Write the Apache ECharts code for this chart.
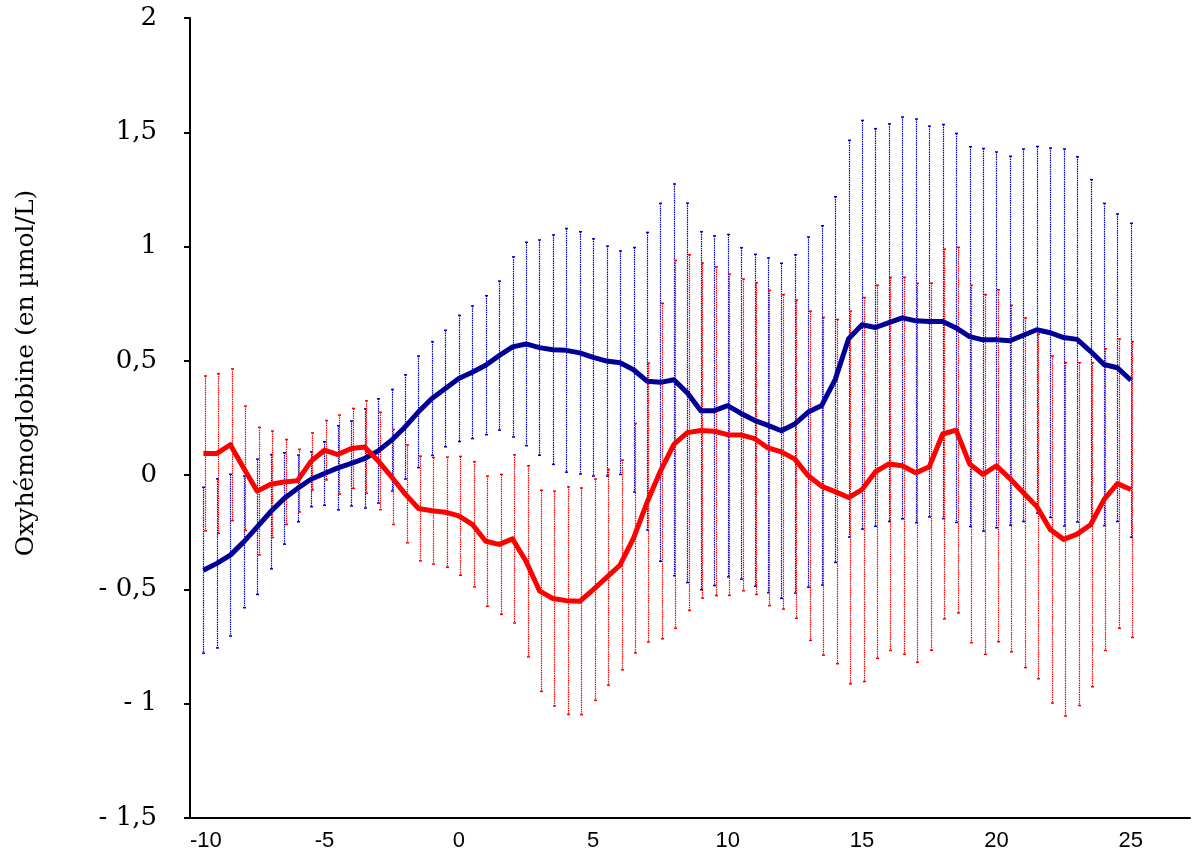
<!DOCTYPE html>
<html>
<head>
<meta charset="utf-8">
<script src="https://cdn.jsdelivr.net/npm/echarts@6/dist/echarts.min.js"></script>
<style>
  html, body { margin: 0; padding: 0; background: #fff; }
  #chart { width: 1194px; height: 856px; }
</style>
</head>
<body>
<div id="chart"></div>
<script>
// Time points (s), every 0.5 from -9.5 to 25
const times = [
  -9.5, -9, -8.5, -8, -7.5, -7, -6.5, -6, -5.5, -5,
  -4.5, -4, -3.5, -3, -2.5, -2, -1.5, -1, -0.5, 0,
  0.5, 1, 1.5, 2, 2.5, 3, 3.5, 4, 4.5, 5,
  5.5, 6, 6.5, 7, 7.5, 8, 8.5, 9, 9.5, 10,
  10.5, 11, 11.5, 12, 12.5, 13, 13.5, 14, 14.5, 15,
  15.5, 16, 16.5, 17, 17.5, 18, 18.5, 19, 19.5, 20,
  20.5, 21, 21.5, 22, 22.5, 23, 23.5, 24, 24.5, 25
];

// Blue group: mean and standard deviation
const blueMean = [
  -0.416, -0.386, -0.35, -0.292, -0.226, -0.16, -0.102, -0.058, -0.018, 0.007,
  0.032, 0.051, 0.073, 0.106, 0.153, 0.211, 0.277, 0.335, 0.379, 0.423,
  0.45, 0.481, 0.523, 0.561, 0.574, 0.558, 0.549, 0.546, 0.535, 0.515,
  0.499, 0.492, 0.461, 0.411, 0.406, 0.417, 0.36, 0.282, 0.282, 0.304,
  0.27, 0.24, 0.218, 0.194, 0.224, 0.276, 0.305, 0.418, 0.597, 0.658,
  0.646, 0.667, 0.688, 0.675, 0.672, 0.672, 0.644, 0.606, 0.592, 0.592,
  0.588, 0.612, 0.636, 0.623, 0.602, 0.594, 0.542, 0.484, 0.47, 0.415
];
const blueSd = [
  0.363, 0.37, 0.354, 0.288, 0.296, 0.25, 0.2, 0.146, 0.12, 0.139,
  0.184, 0.186, 0.217, 0.228, 0.222, 0.228, 0.244, 0.249, 0.255, 0.276,
  0.29, 0.304, 0.326, 0.394, 0.445, 0.471, 0.502, 0.533, 0.53, 0.519,
  0.503, 0.489, 0.535, 0.651, 0.783, 0.857, 0.83, 0.783, 0.765, 0.749,
  0.725, 0.726, 0.732, 0.733, 0.74, 0.766, 0.786, 0.8, 0.868, 0.894,
  0.87, 0.87, 0.879, 0.883, 0.855, 0.862, 0.851, 0.831, 0.837, 0.822,
  0.807, 0.815, 0.802, 0.808, 0.825, 0.799, 0.751, 0.705, 0.673, 0.687
];

// Red group: mean and standard deviation
const redMean = [
  0.095, 0.095, 0.133, 0.03, -0.07, -0.04, -0.03, -0.024, 0.06, 0.109,
  0.09, 0.117, 0.123, 0.062, -0.008, -0.082, -0.146, -0.156, -0.162, -0.178,
  -0.215, -0.289, -0.303, -0.279, -0.377, -0.506, -0.54, -0.549, -0.552, -0.501,
  -0.447, -0.393, -0.276, -0.12, 0.018, 0.135, 0.186, 0.195, 0.192, 0.177,
  0.176, 0.16, 0.119, 0.102, 0.07, -0.003, -0.049, -0.072, -0.098, -0.063,
  0.015, 0.049, 0.041, 0.01, 0.037, 0.18, 0.197, 0.049, 0.003, 0.041,
  -0.015, -0.077, -0.137, -0.238, -0.281, -0.258, -0.217, -0.107, -0.037, -0.063
];
const redSd = [
  0.339, 0.349, 0.332, 0.272, 0.279, 0.233, 0.186, 0.137, 0.125, 0.13,
  0.173, 0.175, 0.202, 0.213, 0.208, 0.214, 0.229, 0.233, 0.241, 0.26,
  0.274, 0.285, 0.306, 0.368, 0.418, 0.44, 0.47, 0.498, 0.496, 0.484,
  0.472, 0.459, 0.502, 0.61, 0.734, 0.805, 0.778, 0.733, 0.719, 0.703,
  0.682, 0.682, 0.69, 0.688, 0.696, 0.72, 0.739, 0.753, 0.815, 0.84,
  0.816, 0.816, 0.825, 0.829, 0.803, 0.809, 0.8, 0.782, 0.787, 0.77,
  0.758, 0.765, 0.754, 0.759, 0.773, 0.75, 0.709, 0.66, 0.633, 0.647
];

// Axis ticks
const xTicks = [-10, -5, 0, 5, 10, 15, 20, 25];
const yTicks = [-1.5, -1, -0.5, 0, 0.5, 1, 1.5, 2];

const yTitle = 'Oxyhémoglobine (en µmol/L)';

const BLUE_LINE = '#000099';
const BLUE_BAR = '#0000cc';
const RED_LINE = '#ff0000';
const RED_BAR = '#ff0000';

function lineData(mean) {
  return times.map((t, i) => [t, mean[i]]);
}
function errData(mean, sd) {
  return times.map((t, i) => [t, mean[i] - sd[i], mean[i] + sd[i]]);
}

// Dotted vertical error bar with small caps at both ends
function errRenderer(color, dx) {
  return function (params, api) {
    const x = api.value(0);
    const top = api.coord([x, api.value(2)]);
    const bot = api.coord([x, api.value(1)]);
    const cx = Math.round(top[0] + dx) + 0.5;
    const cap = 1.5;
    return {
      type: 'group',
      children: [
        { type: 'line', shape: { x1: cx, y1: top[1], x2: cx, y2: bot[1] },
          style: { stroke: color, lineWidth: 1.2, lineDash: [1.5, 0.8] } },
        { type: 'line', shape: { x1: cx - cap, y1: top[1], x2: cx + cap, y2: top[1] },
          style: { stroke: color, lineWidth: 1.5 } },
        { type: 'line', shape: { x1: cx - cap, y1: bot[1], x2: cx + cap, y2: bot[1] },
          style: { stroke: color, lineWidth: 1.5 } }
      ]
    };
  };
}

function fmtY(v) {
  const s = String(Math.abs(v)).replace('.', ',');
  return v < 0 ? '- ' + s : s;
}

const chart = echarts.init(document.getElementById('chart'), null, { renderer: 'canvas' });

chart.setOption({
  animation: false,
  backgroundColor: '#ffffff',
  grid: { left: 190, right: 4, top: 18, bottom: 38, containLabel: false },
  xAxis: {
    type: 'value',
    min: -10,
    max: 27.2,
    interval: 5,
    axisLine: { show: true, onZero: false, lineStyle: { color: '#000', width: 2 } },
    axisTick: { show: false },
    splitLine: { show: false },
    axisLabel: {
      color: '#000',
      fontFamily: 'Liberation Sans, Arial, sans-serif',
      fontSize: 22,
      margin: 12,
      showMaxLabel: false,
      alignMinLabel: 'left',
      formatter: v => (xTicks.indexOf(v) >= 0 ? String(v) : '')
    }
  },
  yAxis: {
    type: 'value',
    min: -1.5,
    max: 2,
    interval: 0.5,
    axisLine: { show: true, onZero: false, lineStyle: { color: '#000', width: 2 } },
    axisTick: { show: true, length: 6, lineStyle: { color: '#000', width: 2 } },
    splitLine: { show: false },
    axisLabel: {
      color: '#000',
      fontFamily: 'DejaVu Serif, serif',
      fontSize: 26,
      margin: 33,
      formatter: v => (yTicks.indexOf(v) >= 0 ? fmtY(v) : '')
    }
  },
  graphic: [{
    type: 'text',
    x: 26,
    y: 373,
    rotation: Math.PI / 2,
    style: {
      text: yTitle,
      fill: '#000',
      font: '25px "DejaVu Serif", serif',
      textAlign: 'center',
      textVerticalAlign: 'middle'
    }
  }],
  series: [
    {
      name: 'errBlue',
      type: 'custom',
      renderItem: errRenderer(BLUE_BAR, 0),
      data: errData(blueMean, blueSd),
      z: 2,
      silent: true
    },
    {
      name: 'errRed',
      type: 'custom',
      renderItem: errRenderer(RED_BAR, 1.5),
      data: errData(redMean, redSd),
      z: 2,
      silent: true
    },
    {
      name: 'blue',
      type: 'line',
      data: lineData(blueMean),
      symbol: 'none',
      lineStyle: { color: BLUE_LINE, width: 5, join: 'round' },
      z: 5
    },
    {
      name: 'red',
      type: 'line',
      data: lineData(redMean),
      symbol: 'none',
      lineStyle: { color: RED_LINE, width: 5, join: 'round' },
      z: 6
    }
  ]
});
</script>
</body>
</html>
